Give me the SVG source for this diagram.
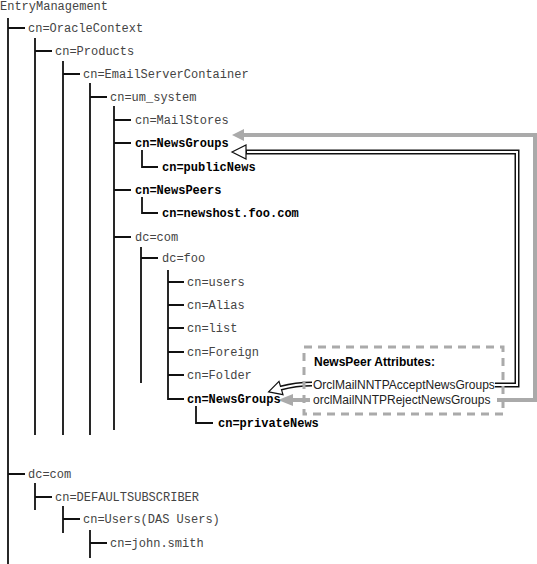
<svg xmlns="http://www.w3.org/2000/svg" width="537" height="564" viewBox="0 0 537 564">
<style>
.t{font-family:"Liberation Mono","Courier New",monospace;font-size:12px;fill:#444}
.b{font-weight:bold;fill:#000}
.s{font-family:"Liberation Sans",Arial,sans-serif;font-size:12px;fill:#222}
.tree{fill:none;stroke:#111;stroke-width:1.8;stroke-linecap:butt;stroke-linejoin:miter}
.gray{fill:none;stroke:#aaa;stroke-width:4}
.hb{fill:none;stroke:#111;stroke-width:5}
.hw{fill:none;stroke:#fff;stroke-width:2}
</style>
<rect width="537" height="564" fill="#fff"/>
<g id="connectors">
<g class="tree">
<path d="M8,18V564"/>
<path d="M8,28H25M8,474H25"/>
<path d="M35,38V435M35,51H52"/>
<path d="M63,61V435M63,74H80"/>
<path d="M90,83V435M90,97H107"/>
<path d="M114,106V430M114,120H131M114,143H131M114,190H131M114,237H131"/>
<path d="M142,150V167H158"/>
<path d="M142,197V213H158"/>
<path d="M141,247V383M141,258H158"/>
<path d="M168,270V400M168,282H184M168,305H184M168,328H184M168,352H184M168,375H184M168,399H184"/>
<path d="M196,406V423H213"/>
<path d="M35,483V510M35,497H52"/>
<path d="M63,506V533M63,519H80"/>
<path d="M90,530V558M90,543H107"/>
</g>
<polyline class="gray" points="497,400 535,400 535,135 243,135"/>
<polygon points="232,135 244,129 244,141" fill="#aaa"/>
<line class="gray" x1="310" y1="400" x2="292" y2="400"/>
<polygon points="278,400 293,394 293,406" fill="#aaa"/>
<path class="hb" d="M495,385H517V152H245"/>
<polygon points="232,152 246,145 246,159" fill="#fff" stroke="#111" stroke-width="1.2"/>
<path class="hw" d="M495,385H517V152H247"/>
<path class="hb" d="M312,384C300,384 292,385 281,388"/>
<polygon points="268.6,391.8 283,394.7 279,381.3" fill="#fff" stroke="#111" stroke-width="1.2"/>
<path class="hw" d="M312,384C300,384 292,385 280,388.3"/>
</g>
<g id="box">
<rect x="304" y="347" width="199" height="67" fill="none" stroke="#aaa" stroke-width="3" stroke-dasharray="8,6"/>
<text x="314" y="366" font-family="Liberation Sans,Arial,sans-serif" font-size="12" font-weight="bold" fill="#000">NewsPeer Attributes:</text>
<text class="s" x="313" y="389">OrclMailNNTPAcceptNewsGroups</text>
<text class="s" x="313" y="404">orclMailNNTPRejectNewsGroups</text>
</g>
<g id="n-root"><text class="t" x="0" y="10">EntryManagement</text></g>
<g id="n-oracle"><text class="t" x="28" y="32">cn=OracleContext</text></g>
<g id="n-products"><text class="t" x="55" y="55">cn=Products</text></g>
<g id="n-email"><text class="t" x="83" y="78">cn=EmailServerContainer</text></g>
<g id="n-um"><text class="t" x="110" y="101">cn=um_system</text></g>
<g id="n-mailstores"><text class="t" x="135" y="124">cn=MailStores</text></g>
<g id="n-newsgroups"><text class="t b" x="135" y="147">cn=NewsGroups</text></g>
<g id="n-publicnews"><text class="t b" x="162" y="171">cn=publicNews</text></g>
<g id="n-newspeers"><text class="t b" x="135" y="194">cn=NewsPeers</text></g>
<g id="n-newshost"><text class="t b" x="162" y="217">cn=newshost.foo.com</text></g>
<g id="n-dccom1"><text class="t" x="135" y="241">dc=com</text></g>
<g id="n-dcfoo"><text class="t" x="162" y="262">dc=foo</text></g>
<g id="n-users"><text class="t" x="187" y="286">cn=users</text></g>
<g id="n-alias"><text class="t" x="187" y="309">cn=Alias</text></g>
<g id="n-list"><text class="t" x="187" y="332">cn=list</text></g>
<g id="n-foreign"><text class="t" x="187" y="356">cn=Foreign</text></g>
<g id="n-folder"><text class="t" x="187" y="379">cn=Folder</text></g>
<g id="n-newsgroups2"><text class="t b" x="187" y="403">cn=NewsGroups</text></g>
<g id="n-privatenews"><text class="t b" x="218" y="427">cn=privateNews</text></g>
<g id="n-dccom2"><text class="t" x="28" y="478">dc=com</text></g>
<g id="n-default"><text class="t" x="55" y="501">cn=DEFAULTSUBSCRIBER</text></g>
<g id="n-dasusers"><text class="t" x="83" y="523">cn=Users(DAS Users)</text></g>
<g id="n-john"><text class="t" x="110" y="547">cn=john.smith</text></g>
</svg>
